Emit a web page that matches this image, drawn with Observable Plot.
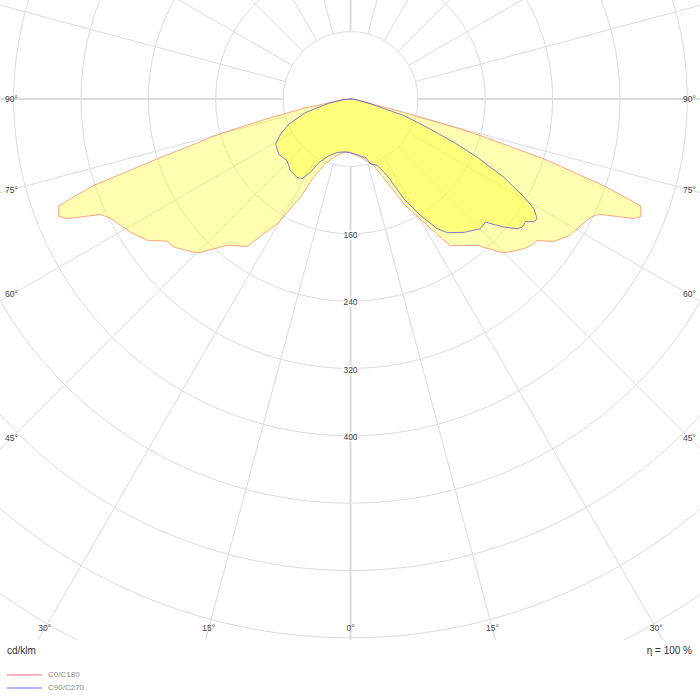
<!DOCTYPE html>
<html><head><meta charset="utf-8">
<script src="https://cdn.jsdelivr.net/npm/d3@7"></script>
<script src="https://cdn.jsdelivr.net/npm/@observablehq/plot@0.6"></script>
<style>
body{margin:0;background:#fff;font-family:"Liberation Sans",Arial,sans-serif}
#foot{position:relative;width:700px;height:60px}
#foot span{position:absolute;white-space:nowrap}
.lg{position:absolute;left:7px;width:35px;height:0;border-top:2px solid}
</style>
</head><body>
<div id="chart"></div>
<div id="foot">
  <span id="unit" style="left:7px;top:5px;font-size:10px;color:#333"></span>
  <span id="eta" style="right:8px;top:5px;font-size:10px;color:#333"></span>
  <div class="lg" style="top:34px;border-color:#ffb4b4"></div>
  <span id="lg1" style="left:48px;top:30px;font-size:8px;color:#888"></span>
  <div class="lg" style="top:47px;border-color:#b4b4ff"></div>
  <span id="lg2" style="left:48px;top:43px;font-size:8px;color:#888"></span>
</div>
<script>
// ---- data (cd/klm vs gamma in degrees from nadir) ----
const seriesNames = ["C0/C180", "C90/C270"];
const unitLabel = "cd/klm";
const etaLabel = "η = 100 %";
const ringValues = [80,160,240,320,400,480,560,640,720,800,880];
const ringLabels = [160,240,320,400];
const angleLabels = [-90,-75,-60,-45,-30,-15,0,15,30,45,60,75,90];
const spokeAngles = d3.range(0, 360, 15);

// C0/C180 : left half (C180) and right half (C0)
const redLeftGamma = [0,7.5,16.3,21.1,25.3,27,30.4,35.1,40.1,44.8,50.1,52.2,55.2,58.8,63.5,65.2,67.1,68.1,69.9,71.4,71.8,72.8,75.1,76.6,77.6,78.8,80,85,90];
const redLeftI     = [63,64,72,82.5,103,131,172,214,227,258,274,275.5,294,305.5,318,327,365,373.5,369,322,292,240,160,105,75,55,25,8,0];
const redRightGamma = [0,9.7,19.3,24,27,29.3,33.3,34.3,40.9,44.8,49.2,50.9,52.8,55.0,58.2,61.2,63.8,65.1,67.1,68.0,69.8,71.1,72.8,74.3,74.8,75.3,76,76.8,80,85,90];
const redRightI     = [63,70,84,110,140,158,199,211,230,258,272,276,278,295,307,312,318,325,365,372,367,318,240,160,130,95,60,30,12,5,0];

// C90/C270 : left half (C270) and right half (C90)
const blueLeftGamma = [0,5.4,14.0,20.9,26.5,28.6,31.3,34.2,39.9,45.7,52.4,58.9,63.3,67.8,73.3,79.0,85,90];
const blueLeftI     = [64,63,65.5,72.2,84.3,99.4,110.5,112.7,111.1,105.1,107.5,104,93.1,79.1,55.8,26.3,8,0];
const blueRightGamma = [0,14.4,17.2,21.9,25.6,28.1,31.0,33.7,35.9,40.4,45.0,47.6,50.1,52.1,53.3,55.0,56.2,57.3,59.1,60.5,63.0,65.3,67.3,70.5,72.8,76.5,80,85,90];
const blueRightI     = [64,71.7,80.5,85,101,134,161,185,196,208,218,217,237,251,254.5,254,262,263.4,254,237,204,166,133,88,66,24,10,4,0];

// ---- layout ----
const W = 700, H = 640, cx = 350, cy = 98.5, k = 0.842; // px per cd/klm
const rad = d => d * Math.PI / 180;
const pt = (g, I, side) => ({x: side * I * Math.sin(rad(g)), y: -I * Math.cos(rad(g))});

function polygon(lg, li, rg, ri) {
  const left = lg.map((g, i) => pt(g, li[i], -1)).reverse();
  const right = rg.map((g, i) => pt(g, ri[i], 1));
  const p = left.concat(right);
  p.push(p[0]);
  return p;
}
const redPoly = polygon(redLeftGamma, redLeftI, redRightGamma, redRightI);
const bluePoly = polygon(blueLeftGamma, blueLeftI, blueRightGamma, blueRightI);

const ringPts = ringValues.flatMap(r => d3.range(0, 361, 2).map(a => ({r, ...pt(a, r, 1)})));
const spokes = spokeAngles.map(a => ({a, p1: pt(a, 80, 1), p2: pt(a, 1400, 1)}));

const xLim = (cx - 11) / k, yLim = (628 - cy) / k;
const angPos = angleLabels.map(a => {
  const s = Math.abs(Math.sin(rad(a))), c = Math.cos(rad(a));
  const t = Math.min(s > 1e-6 ? xLim / s : Infinity, c > 1e-6 ? yLim / c : Infinity);
  return {label: Math.abs(a) + "°", ...pt(a, t, 1)};
});

const chart = Plot.plot({
  width: W, height: H, margin: 0,
  x: {domain: [-cx / k, (W - cx) / k], axis: null},
  y: {domain: [-(H - cy) / k, cy / k], axis: null},
  style: {fontFamily: "Liberation Sans, Arial, sans-serif", background: "#fff"},
  marks: [
    Plot.line(ringPts, {x: "x", y: "y", z: "r", stroke: "#dcdcdc", strokeWidth: 1, clip: true}),
    Plot.link(spokes, {x1: d => d.p1.x, y1: d => d.p1.y, x2: d => d.p2.x, y2: d => d.p2.y,
      stroke: "#dcdcdc", strokeWidth: d => d.a % 90 === 0 ? 2 : 1, clip: true}),
    Plot.line(redPoly, {x: "x", y: "y", fill: "yellow", fillOpacity: 0.3, stroke: "#ff5a3c", strokeOpacity: 0.55, strokeWidth: 1, curve: "linear"}),
    Plot.line(bluePoly, {x: "x", y: "y", fill: "yellow", fillOpacity: 0.3, stroke: "blue", strokeOpacity: 0.5, strokeWidth: 1, curve: "linear"}),
    Plot.text(ringLabels, {x: d => 0, y: d => -d, dy: 1.5, text: d => String(d), fontSize: 8.5, fill: "#444", stroke: "white", strokeWidth: 3}),
    Plot.text(angPos, {x: "x", y: "y", text: "label", fontSize: 8.5, fill: "#444"})
  ]
});
document.getElementById("chart").append(chart);
document.getElementById("unit").textContent = unitLabel;
document.getElementById("eta").textContent = etaLabel;
document.getElementById("lg1").textContent = seriesNames[0];
document.getElementById("lg2").textContent = seriesNames[1];
</script>
</body></html>
